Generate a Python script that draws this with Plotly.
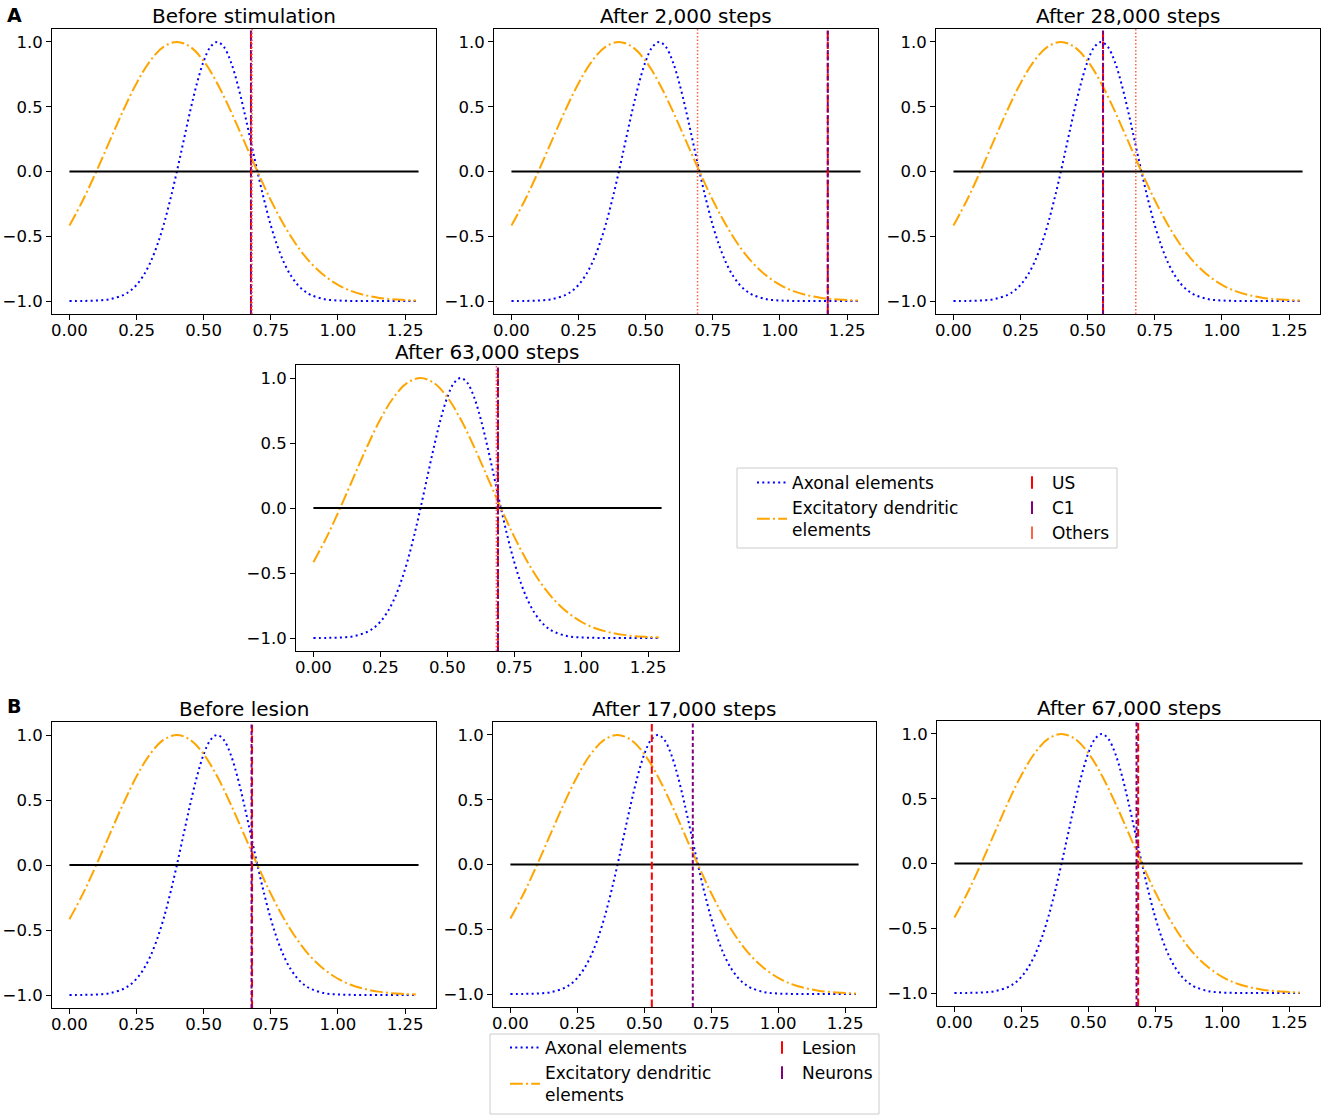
import plotly.graph_objects as go

# growth curves (same in every panel)
axonal_x = [0.0, 0.05, 0.1, 0.15,
            0.2, 0.225, 0.25, 0.275, 0.3, 0.325, 0.35, 0.375, 0.4, 0.425,
            0.45, 0.475, 0.5, 0.525, 0.55, 0.575, 0.6, 0.625, 0.65, 0.675,
            0.7, 0.725, 0.75, 0.775, 0.8, 0.825, 0.85, 0.875, 0.9,
            0.95, 1.0, 1.05, 1.1, 1.15, 1.2, 1.25, 1.29]
axonal_y = [-1.0, -0.999, -0.996, -0.986,
            -0.954, -0.923, -0.875, -0.805, -0.708, -0.579, -0.417, -0.221, 0.0, 0.236,
            0.470, 0.682, 0.852, 0.962, 1.0, 0.962, 0.852, 0.682, 0.470, 0.236,
            0.0, -0.221, -0.417, -0.579, -0.708, -0.805, -0.875, -0.923, -0.954,
            -0.986, -0.996, -0.999, -1.0, -1.0, -1.0, -1.0, -1.0]

dendritic_x = [0.0, 0.05, 0.1, 0.15, 0.2, 0.25, 0.3, 0.35, 0.4, 0.45, 0.5, 0.55, 0.6,
               0.65, 0.7, 0.75, 0.8, 0.85, 0.9, 0.95, 1.0, 1.05, 1.1, 1.15, 1.2, 1.25, 1.29]
dendritic_y = [-0.417, -0.222, 0.0, 0.236, 0.470, 0.682, 0.852, 0.962, 1.0, 0.962, 0.852, 0.682, 0.470,
               0.236, 0.0, -0.222, -0.417, -0.580, -0.709, -0.805, -0.875, -0.923, -0.954, -0.974, -0.986, -0.992, -0.996]

baseline_x = [0.0, 1.3]
baseline_y = [0.0, 0.0]
y_span = [-1.1, 1.1]

# panel A (stimulation)
titles_a = ["Before stimulation", "After 2,000 steps", "After 28,000 steps", "After 63,000 steps"]
us_pos = [0.676, 1.178, 0.557, 0.689]
c1_pos = [0.676, 1.178, 0.557, 0.689]
others_pos = [0.680, 0.693, 0.679, 0.683]

# panel B (lesion)
titles_b = ["Before lesion", "After 17,000 steps", "After 67,000 steps"]
lesion_pos = [0.680, 0.528, 0.686]
neurons_pos = [0.678, 0.681, 0.680]

x_ticks = [0, 0.25, 0.5, 0.75, 1.0, 1.25]
y_ticks = [-1.0, -0.5, 0.0, 0.5, 1.0]

W, H = 1325, 1119
FONT = "DejaVu Sans"


def xdom(left, right):
    return [left / W, right / W]


def ydom(top, bottom):
    return [1 - bottom / H, 1 - top / H]


# axes boxes in pixels: (left, right, top, bottom)
boxes = [
    (52, 436, 29, 314), (494, 878, 29, 314), (936, 1320, 29, 314),
    (296, 679, 365, 651),
    (52, 436, 722, 1008), (493, 876, 722, 1007), (937, 1320, 721, 1006),
]

fig = go.Figure()

blue_dot = dict(color="blue", width=2, dash="2px,3.3px")
orange_dd = dict(color="#ffa500", width=2, dash="12.8px,3.2px,2px,3.2px")
red_dash = dict(color="red", width=2, dash="7.4px,3.2px")
purple_dash = dict(color="purple", width=2, dash="4px,2.5px")
others_dot = dict(color="tomato", width=1.5, dash="1.5px,2px")


def add_curves(n, legend_name=None):
    ax = "" if n == 1 else str(n)
    show = legend_name is not None
    fig.add_trace(go.Scatter(x=axonal_x, y=axonal_y, mode="lines", line=blue_dot,
                             line_shape="spline", name="Axonal elements",
                             showlegend=show, legend=legend_name or "legend",
                             legendgroup="ax", xaxis="x" + ax, yaxis="y" + ax))
    fig.add_trace(go.Scatter(x=dendritic_x, y=dendritic_y, mode="lines", line=orange_dd,
                             line_shape="spline", name="Excitatory dendritic<br>elements",
                             showlegend=show, legend=legend_name or "legend",
                             legendgroup="de", xaxis="x" + ax, yaxis="y" + ax))
    fig.add_trace(go.Scatter(x=baseline_x, y=baseline_y, mode="lines",
                             line=dict(color="black", width=2), showlegend=False,
                             xaxis="x" + ax, yaxis="y" + ax))


def add_vline(n, pos, style):
    ax = "" if n == 1 else str(n)
    fig.add_trace(go.Scatter(x=[pos, pos], y=y_span, mode="lines", line=style,
                             showlegend=False, xaxis="x" + ax, yaxis="y" + ax))


def add_key(name, color, legend_name, group):
    fig.add_trace(go.Scatter(x=[None], y=[None], mode="markers", name=name,
                             marker=dict(symbol="line-ns-open", size=9, color=color,
                                         line=dict(color=color, width=2)),
                             legend=legend_name, legendgroup=group, xaxis="x4", yaxis="y4"))


for i in range(4):
    n = i + 1
    add_curves(n, "legend" if n == 4 else None)
    add_vline(n, us_pos[i], red_dash)
    add_vline(n, c1_pos[i], purple_dash)
    add_vline(n, others_pos[i], others_dot)

for i in range(3):
    n = i + 5
    add_curves(n, "legend3" if n == 6 else None)
    add_vline(n, lesion_pos[i], red_dash)
    add_vline(n, neurons_pos[i], purple_dash)

add_key("US", "red", "legend2", "us")
add_key("C1", "purple", "legend2", "c1")
add_key("Others", "tomato", "legend2", "ot")
add_key("Lesion", "red", "legend4", "le")
add_key("Neurons", "purple", "legend4", "ne")

axis_common = dict(ticks="outside", ticklen=5, tickwidth=1, tickcolor="black",
                   showline=True, linecolor="black", linewidth=1, mirror=True,
                   showgrid=False, zeroline=False,
                   tickfont=dict(family=FONT, size=16.5, color="black"))

layout = {}
titles = titles_a + titles_b
annotations = []
for i, (l, r, t, b) in enumerate(boxes):
    n = i + 1
    ax = "" if n == 1 else str(n)
    layout["xaxis" + ax] = dict(axis_common, domain=xdom(l, r), range=[-0.065, 1.365],
                                tickvals=x_ticks, tickformat=".2f", anchor="y" + ax,
                                ticklabelstandoff=-4)
    layout["yaxis" + ax] = dict(axis_common, domain=ydom(t, b), range=y_span,
                                tickvals=y_ticks, tickformat=".1f", anchor="x" + ax)
    annotations.append(dict(text=titles[i], x=(l + r) / 2 / W, y=1 - t / H, xref="paper",
                            yref="paper", xanchor="center", yanchor="bottom", yshift=-1,
                            showarrow=False, font=dict(family=FONT, size=20, color="black")))

annotations.append(dict(text="<b>A</b>", x=5 / W, y=1 - 2 / H, xref="paper", yref="paper",
                        xanchor="left", yanchor="top", showarrow=False,
                        font=dict(family=FONT, size=19, color="black")))
annotations.append(dict(text="<b>B</b>", x=5 / W, y=1 - 693 / H, xref="paper", yref="paper",
                        xanchor="left", yanchor="top", showarrow=False,
                        font=dict(family=FONT, size=19, color="black")))

legend_common = dict(xanchor="left", yanchor="top", bgcolor="rgba(0,0,0,0)", borderwidth=0,
                     traceorder="grouped", tracegroupgap=0,
                     font=dict(family=FONT, size=17, color="black"))

fig.update_layout(
    width=W, height=H,
    margin=dict(l=0, r=0, t=0, b=0),
    plot_bgcolor="white", paper_bgcolor="white",
    font=dict(family=FONT, size=17, color="black"),
    annotations=annotations,
    legend=dict(legend_common, x=752 / W, y=1 - 465 / H),
    legend2=dict(legend_common, x=1012 / W, y=1 - 465 / H),
    legend3=dict(legend_common, x=505 / W, y=1 - 1030 / H),
    legend4=dict(legend_common, x=762 / W, y=1 - 1030 / H),
    shapes=[
        dict(type="rect", xref="paper", yref="paper", x0=737 / W, x1=1117 / W,
             y0=1 - 548 / H, y1=1 - 468 / H, line=dict(color="#cccccc", width=1)),
        dict(type="rect", xref="paper", yref="paper", x0=490 / W, x1=879 / W,
             y0=1 - 1114 / H, y1=1 - 1034 / H, line=dict(color="#cccccc", width=1)),
    ],
    **layout,
)

fig.write_html("out.html", config={"displayModeBar": False},
               post_script="document.body.style.margin='0';")
